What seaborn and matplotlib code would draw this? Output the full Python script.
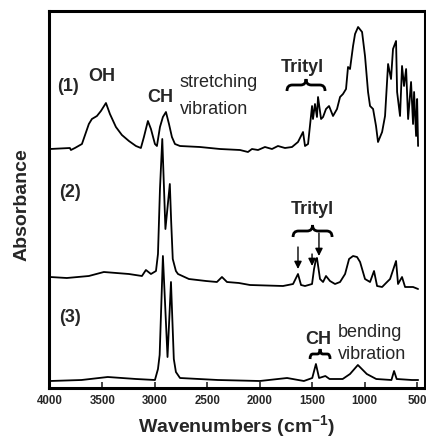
import numpy as np
import pandas as pd
import matplotlib
matplotlib.use('Agg')
import matplotlib.pyplot as plt
from matplotlib.path import Path
from matplotlib.patches import PathPatch
import seaborn as sns

sns.set_style('white')
plt.rcParams['font.family'] = ['Liberation Sans', 'DejaVu Sans']
plt.rcParams['mathtext.fontset'] = 'custom'
plt.rcParams['mathtext.rm'] = 'Liberation Sans'
plt.rcParams['mathtext.bf'] = 'Liberation Sans:bold'

# Spectrum (1): wavenumber (cm-1) and absorbance above its own baseline
wn1 = [4000, 3811, 3801, 3763, 3696, 3630, 3601, 3553, 3515, 3467, 3429, 3372, 3315, 3248,
       3181, 3134, 3105, 3067, 3038, 3000, 2981, 2952, 2924, 2895, 2866, 2838, 2809, 2761,
       2571, 2380, 2189, 2113, 2075, 2017, 1951, 1884, 1827, 1760, 1693, 1636, 1588, 1569,
       1540, 1502, 1493, 1474, 1455, 1445, 1416, 1397, 1369, 1340, 1302, 1264, 1235, 1207,
       1178, 1159, 1140, 1111, 1092, 1063, 1025, 997, 968, 949, 920, 892, 873, 834, 806,
       777, 749, 730, 701, 691, 663, 644, 625, 605, 586, 558, 539, 529, 510, 500, 491]
abs1 = [0.00, 0.01, -0.01, 0.01, 0.05, 0.25, 0.30, 0.33, 0.38, 0.46, 0.35, 0.22, 0.14, 0.08,
        0.03, 0.01, 0.12, 0.28, 0.20, 0.05, 0.03, 0.22, 0.32, 0.37, 0.25, 0.12, 0.05, 0.03,
        0.02, 0.00, -0.01, -0.03, 0.00, -0.01, 0.02, 0.00, 0.03, 0.01, 0.02, 0.07, 0.17, 0.03,
        0.05, 0.43, 0.30, 0.45, 0.32, 0.52, 0.30, 0.32, 0.40, 0.43, 0.33, 0.40, 0.52, 0.55,
        0.60, 0.82, 0.80, 1.03, 1.15, 1.22, 1.17, 0.93, 0.57, 0.43, 0.40, 0.23, 0.07, 0.17, 0.33,
        0.85, 0.70, 1.00, 1.08, 0.57, 0.33, 0.83, 0.63, 0.80, 0.30, 0.67, 0.25, 0.57, 0.13, 0.50, 0.03]

# Spectrum (2)
wn2 = [4000, 3840, 3630, 3487, 3248, 3124, 3086, 3038, 2990, 2971, 2952, 2930, 2900, 2858,
       2845, 2830, 2800, 2780, 2676, 2513, 2409, 2361, 2313, 2199, 2094, 1779, 1683, 1636,
       1607, 1569, 1502, 1483, 1464, 1455, 1426, 1397, 1369, 1331, 1283, 1235, 1187, 1149,
       1111, 1073, 1044, 997, 949, 911, 882, 834, 787, 758, 701, 682, 644, 615, 539, 491]
abs2 = [0.00, -0.01, 0.01, 0.05, 0.03, 0.01, 0.07, 0.03, 0.06, 0.23, 0.88, 1.38, 0.48, 0.93,
        0.55, 0.18, 0.06, 0.03, -0.02, -0.04, -0.05, 0.00, -0.05, -0.06, -0.08, -0.09, -0.07, 0.03,
        -0.08, -0.09, -0.07, 0.08, 0.18, 0.19, -0.02, -0.05, 0.01, -0.04, -0.07, -0.05, 0.03, 0.18,
        0.21, 0.20, 0.15, -0.02, -0.05, 0.06, -0.09, -0.10, -0.05, -0.02, 0.16, -0.07, 0.00, -0.10,
        -0.10, -0.12]

# Spectrum (3)
wn3 = [4000, 3700, 3450, 3180, 3000, 2971, 2955, 2924, 2880, 2847, 2820, 2800, 2761, 2400,
       2000, 1740, 1580, 1500, 1465, 1435, 1375, 1335, 1210, 1140, 1065, 980, 890, 745, 720,
       695, 550, 490]
abs3 = [-0.01, 0.00, 0.03, 0.01, 0.00, 0.11, 0.25, 1.24, 0.23, 0.98, 0.21, 0.08, 0.02, 0.00,
        -0.01, 0.02, -0.01, 0.02, 0.16, 0.02, 0.04, 0.01, 0.01, 0.06, 0.15, 0.06, 0.01, 0.00, 0.09,
        0.01, 0.00, 0.00]

labels = ['(1)', '(2)', '(3)']
offsets = [2.39, 1.11, 0.08]
xticks = [4000, 3500, 3000, 2500, 2000, 1500, 1000, 500]

frames = []
for lab, wn, ab, off in zip(labels, [wn1, wn2, wn3], [abs1, abs2, abs3], offsets):
    frames.append(pd.DataFrame({'wavenumber': wn, 'absorbance': np.array(ab) + off, 'sample': lab}))
df = pd.concat(frames, ignore_index=True)

W, H = 427, 439
fig = plt.figure(figsize=(W / 100, H / 100), dpi=100)
ax = fig.add_axes([49 / W, 50 / H, 376 / W, 377 / H])

sns.lineplot(data=df, x='wavenumber', y='absorbance', hue='sample', units='sample',
             estimator=None, palette=['black'] * 3, linewidth=1.3, legend=False, ax=ax)

ax.set_xlim(4010, 425)
ax.set_ylim(0, 3.77)
ax.set_xticks(xticks)
ax.set_xticklabels([str(t) for t in xticks], fontweight='bold', fontsize=8.3,
                   family=['Liberation Sans Narrow', 'Liberation Sans'])
ax.set_yticks([])
ax.tick_params(axis='x', direction='in', length=4, width=1.2, pad=4, bottom=True)
for s in ax.spines.values():
    s.set_linewidth(2.2)
    s.set_color('black')

ax.set_xlabel(r'Wavenumbers (cm$^{\mathbf{-1}}$)', fontsize=14, fontweight='bold')
ax.xaxis.set_label_coords(0.5, -0.064)
ax.set_ylabel('Absorbance', fontsize=14, fontweight='bold')
ax.yaxis.set_label_coords(-0.05, 0.49)


def brace(ax, x0, x1, y, h):
    """Horizontal curly brace with its tip pointing up."""
    xm = (x0 + x1) / 2
    r = (x1 - x0) * 0.14
    verts = [(x0, y - h / 2), (x0, y), (x0 + r, y), (xm - r, y),
             (xm, y), (xm, y + h / 2), (xm, y), (xm + r, y), (x1 - r, y),
             (x1, y), (x1, y - h / 2)]
    codes = [Path.MOVETO, Path.CURVE3, Path.CURVE3, Path.LINETO,
             Path.CURVE3, Path.CURVE3, Path.CURVE3, Path.CURVE3, Path.LINETO,
             Path.CURVE3, Path.CURVE3]
    ax.add_patch(PathPatch(Path(verts, codes), fill=False, lw=2.0, color='black'))


def arrow(ax, x, y0, y1):
    ax.annotate('', xy=(x, y1), xytext=(x, y0),
                arrowprops=dict(arrowstyle='-|>', color='black', lw=1.0,
                                mutation_scale=11, shrinkA=0, shrinkB=0))


fs = 13
ax.text(3830, 3.02, '(1)', fontsize=fs, fontweight='bold', ha='center', va='center')
ax.text(3506, 3.12, 'OH', fontsize=fs, fontweight='bold', ha='center', va='center')
ax.text(2952, 2.91, 'CH', fontsize=fs, fontweight='bold', ha='center', va='center')
ax.text(2761, 3.06, 'stretching', fontsize=fs, ha='left', va='center')
ax.text(2761, 2.79, 'vibration', fontsize=fs, ha='left', va='center')
ax.text(1598, 3.21, 'Trityl', fontsize=fs, fontweight='bold', ha='center', va='center')
brace(ax, 1741, 1378, 3.03, 0.12)

ax.text(3811, 1.96, '(2)', fontsize=fs, fontweight='bold', ha='center', va='center')
ax.text(1502, 1.79, 'Trityl', fontsize=fs, fontweight='bold', ha='center', va='center')
brace(ax, 1683, 1311, 1.57, 0.12)
arrow(ax, 1636, 1.41, 1.19)
arrow(ax, 1502, 1.34, 1.22)
arrow(ax, 1436, 1.55, 1.32)

ax.text(3811, 0.71, '(3)', fontsize=fs, fontweight='bold', ha='center', va='center')
ax.text(1445, 0.49, 'CH', fontsize=fs, fontweight='bold', ha='center', va='center')
ax.text(1254, 0.56, 'bending', fontsize=fs, ha='left', va='center')
ax.text(1254, 0.34, 'vibration', fontsize=fs, ha='left', va='center')
brace(ax, 1521, 1330, 0.34, 0.10)

fig.savefig('out.png', dpi=100)
